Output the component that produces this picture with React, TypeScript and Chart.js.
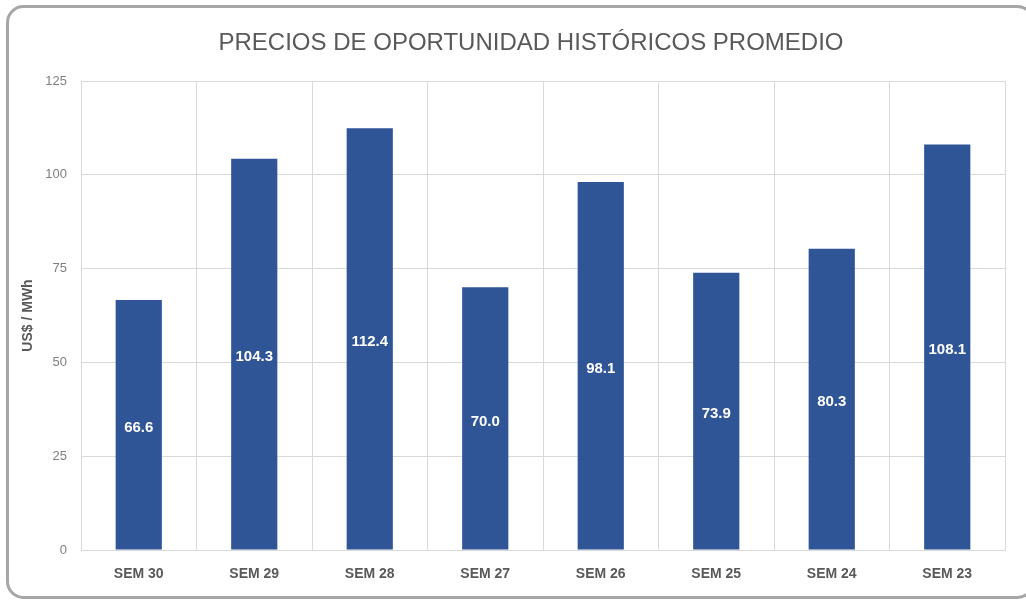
import React, { useEffect, useRef } from "react";
import { Chart, registerables } from "chart.js";

Chart.register(...registerables);

const TITLE = "PRECIOS DE OPORTUNIDAD HISTÓRICOS PROMEDIO";
const Y_TITLE = "US$ / MWh";
const CATEGORIES = ["SEM 30", "SEM 29", "SEM 28", "SEM 27", "SEM 26", "SEM 25", "SEM 24", "SEM 23"];
const PRICES = [66.6, 104.3, 112.4, 70.0, 98.1, 73.9, 80.3, 108.1];
const Y_MIN = 0;
const Y_MAX = 125;
const Y_STEP = 25;

const FONT = "'Liberation Sans', Arial, Helvetica, sans-serif";
const BAR_COLOR = "#2F5597";
const GRID_COLOR = "#d9d9d9";

const framePlugin = {
  id: "frame",
  beforeDraw(chart: any) {
    const ctx = chart.ctx;
    ctx.save();
    ctx.fillStyle = "#ffffff";
    ctx.fillRect(0, 0, chart.width, chart.height);
    ctx.beginPath();
    (ctx as any).roundRect(7.5, 6.5, 1026, 591, 16);
    ctx.fillStyle = "#ffffff";
    ctx.fill();
    ctx.lineWidth = 3;
    ctx.strokeStyle = "#a6a6a6";
    ctx.stroke();
    ctx.restore();
  },
  afterDraw(chart: any) {
    const ctx = chart.ctx;
    ctx.save();
    ctx.font = `24px ${FONT}`;
    ctx.fillStyle = "#595959";
    ctx.textAlign = "center";
    ctx.textBaseline = "middle";
    ctx.fillText(TITLE, 531, 43);
    ctx.restore();
  },
};

const labelPlugin = {
  id: "barLabels",
  afterDatasetsDraw(chart: any) {
    const ctx = chart.ctx;
    const meta = chart.getDatasetMeta(0);
    const data = chart.data.datasets[0].data as number[];
    ctx.save();
    ctx.font = `bold 15px ${FONT}`;
    ctx.fillStyle = "#ffffff";
    ctx.textAlign = "center";
    ctx.textBaseline = "middle";
    meta.data.forEach((el: any, i: number) => {
      const y = (el.y + el.base) / 2 + 3;
      ctx.fillText(data[i].toFixed(1), el.x, y);
    });
    ctx.restore();
  },
};

export default function App() {
  const ref = useRef<HTMLCanvasElement | null>(null);
  useEffect(() => {
    if (!ref.current) return;
    const chart = new Chart(ref.current, {
      type: "bar",
      data: {
        labels: CATEGORIES,
        datasets: [
          {
            data: PRICES,
            backgroundColor: BAR_COLOR,
            barPercentage: 0.4,
            categoryPercentage: 1,
          },
        ],
      },
      options: {
        responsive: false,
        animation: false,
        devicePixelRatio: 1,
        layout: { padding: { top: 81, left: 16, right: 21, bottom: 0 } },
        plugins: {
          legend: { display: false },
          title: { display: false },
          tooltip: { enabled: false },
        },
        scales: {
          x: {
            grid: { color: GRID_COLOR, offset: true, drawTicks: false },
            border: { color: GRID_COLOR },
            ticks: {
              color: "#595959",
              font: { family: FONT, size: 14, weight: "bold" },
              padding: 16,
            },
            afterFit(scale: any) {
              scale.height = 50;
            },
          },
          y: {
            min: Y_MIN,
            max: Y_MAX,
            grid: { color: GRID_COLOR, drawTicks: false },
            border: { display: false },
            ticks: {
              stepSize: Y_STEP,
              color: "#7f7f7f",
              font: { family: FONT, size: 13 },
              padding: 14,
            },
            title: {
              display: true,
              text: Y_TITLE,
              color: "#595959",
              font: { family: FONT, size: 14, weight: "bold" },
            },
            afterFit(scale: any) {
              scale.width = 65;
            },
          },
        },
      },
      plugins: [framePlugin, labelPlugin],
    } as any);
    return () => chart.destroy();
  }, []);
  return (
    <div style={{ position: "absolute", left: 0, top: 0, width: 1026, height: 600 }}>
      <canvas ref={ref} width={1026} height={600} style={{ display: "block" }} />
    </div>
  );
}
